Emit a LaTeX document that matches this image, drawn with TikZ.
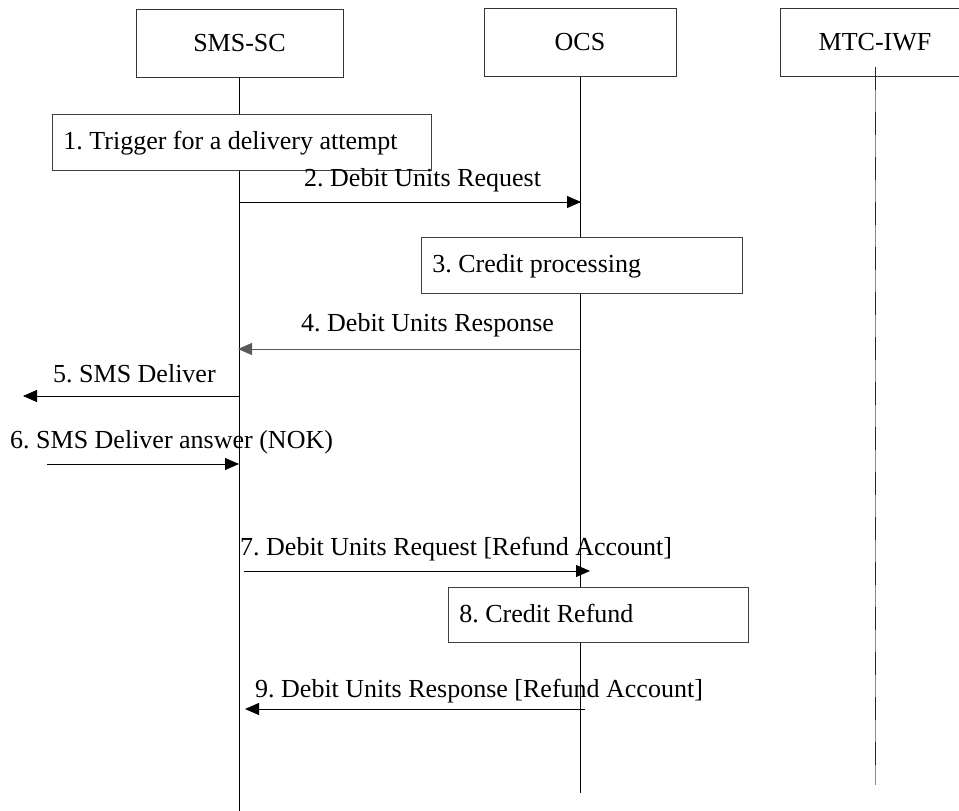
\documentclass[tikz,border=0pt]{standalone}
\usepackage{fontspec}
\setmainfont{Liberation Serif}
\usetikzlibrary{arrows.meta}
\frenchspacing
\tikzset{
  actor/.style={draw=black!80, line width=0.8pt, minimum width=#1, minimum height=68pt, inner sep=0pt},
  procbox/.style={draw=black!75, fill=white, line width=0.8pt, anchor=north west, minimum height=56pt,
    text width=#1, align=flush left, inner xsep=11pt, inner ysep=0pt, text height=17pt, text depth=2pt},
  msg/.style={line width=0.8pt, -{Triangle[length=14pt,width=12pt]}},
  lbl/.style={anchor=base west, inner sep=0pt},
  life/.style={line width=0.8pt},
}

\begin{document}
\begin{tikzpicture}[x=1pt, y=-1pt, font=\fontsize{26}{30}\selectfont]
			%%%%% START %%%%%
			\useasboundingbox (0, 0) rectangle (959, 811);
			
			% entities
			\node[actor=207pt] (sc) at (239.5, 43) {SMS-SC};
			\node[actor=192pt] (ocs) at (580, 42.5) {OCS};
			\node[actor=190pt] (iwf) at (875, 42.5) {MTC-IWF};
			
			% lifelines
			\coordinate (scend) at (239.5, 811);
			\coordinate (ocsend) at (580, 793);
			\coordinate (iwftop) at (875, 67);
			\coordinate (iwfend) at (875, 785);
			\draw[life] (sc.south) -- (scend);
			\draw[life] (ocs.south) -- (ocsend);
			\draw[life, color=black!45] (iwftop) -- (iwfend);
			\draw[life, color=black!85, dash pattern=on 23pt off 22pt] (iwftop) -- (iwfend);
			
			% local steps
			\node[procbox=357pt] (trigger) at (52, 114) {1. Trigger for a delivery attempt};
			\node[procbox=299pt] (credit) at (421, 237) {3. Credit processing};
			\node[procbox=278pt, minimum height=55pt] (refund) at (448, 587) {8. Credit Refund};
			
			% messages
			\coordinate (m2a) at (240, 202);
			\coordinate (m2b) at (581, 202);
			\draw[msg] (m2a) -- (m2b);
			\node[lbl] (l2) at (304, 186) {2. Debit Units Request};
			
			\coordinate (m4a) at (580, 349);
			\coordinate (m4b) at (238, 349);
			\draw[msg, color=black!65] (m4a) -- (m4b);
			\node[lbl] (l4) at (301, 331) {4. Debit Units Response};
			
			\coordinate (m5a) at (240, 396);
			\coordinate (m5b) at (23, 396);
			\draw[msg] (m5a) -- (m5b);
			\node[lbl] (l5) at (53, 382) {5. SMS Deliver};
			
			\coordinate (m6a) at (47, 464);
			\coordinate (m6b) at (239, 464);
			\draw[msg] (m6a) -- (m6b);
			\node[lbl] (l6) at (10, 448) {6. SMS Deliver answer (NOK)};
			
			\coordinate (m7a) at (244, 571);
			\coordinate (m7b) at (590, 571);
			\draw[msg] (m7a) -- (m7b);
			\node[lbl] (l7) at (240, 555) {7. Debit Units Request [Refund Account]};
			
			\coordinate (m9a) at (585, 709);
			\coordinate (m9b) at (245, 709);
			\draw[msg] (m9a) -- (m9b);
			\node[lbl] (l9) at (255, 697) {9. Debit Units Response [Refund Account]};
			
			%%%%% END %%%%%
\end{tikzpicture}
\end{document}
